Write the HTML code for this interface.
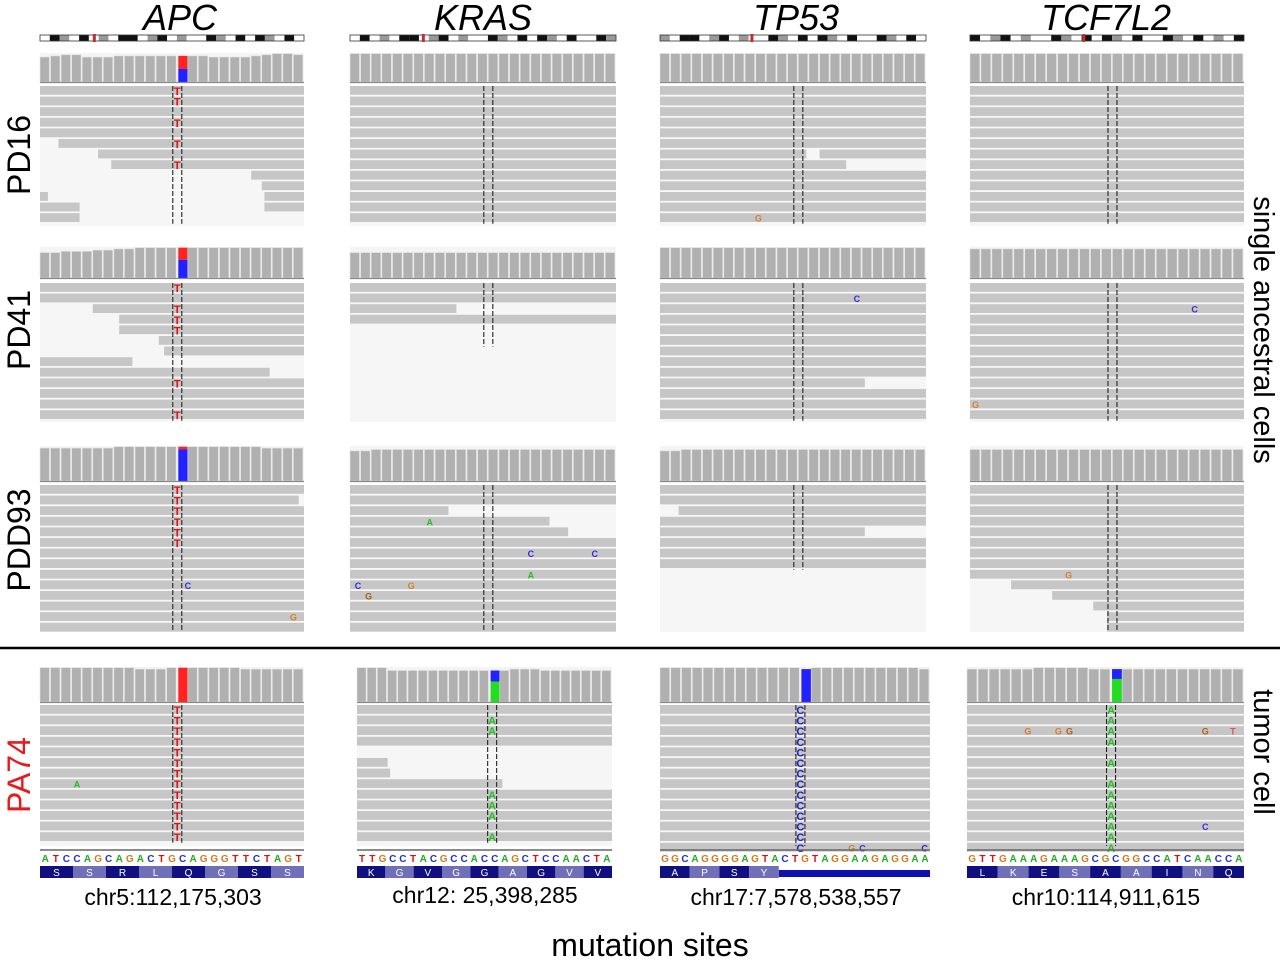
<!DOCTYPE html>
<html><head><meta charset="utf-8">
<style>
body{margin:0;background:#fff;width:1280px;height:961px;overflow:hidden;font-family:"Liberation Sans",sans-serif;}
svg{display:block}
</style></head>
<body>
<svg id="fig" width="1280" height="961" xmlns="http://www.w3.org/2000/svg" font-family="Liberation Sans, sans-serif">
 <g font-size="36" font-style="italic" text-anchor="middle">
  <text x="180" y="30">APC</text>
  <text x="483" y="30">KRAS</text>
  <text x="796" y="30">TP53</text>
  <text x="1106" y="30">TCF7L2</text>
 </g>
 <g font-size="32" text-anchor="middle">
  <text transform="translate(30,155) rotate(-90)">PD16</text>
  <text transform="translate(30,330) rotate(-90)">PD41</text>
  <text transform="translate(30,540) rotate(-90)">PDD93</text>
  <text fill="#e8191b" transform="translate(30,775) rotate(-90)">PA74</text>
  <text font-size="29" transform="translate(1254,330) rotate(90)">single ancestral cells</text>
  <text font-size="29" transform="translate(1254,752) rotate(90)">tumor cell</text>
 </g>
 <line x1="0" y1="648" x2="1280" y2="648" stroke="#000" stroke-width="2.5"/>
 <g font-size="23" text-anchor="middle">
  <text x="173" y="905">chr5:112,175,303</text>
  <text x="485" y="903">chr12: 25,398,285</text>
  <text x="796" y="905">chr17:7,578,538,557</text>
  <text x="1106" y="905">chr10:114,911,615</text>
 </g>
 <text x="650" y="956" font-size="32" text-anchor="middle">mutation sites</text>
 <g id="panels"></g>
</svg>
<script>
const cols=[{x:40,w:264},{x:350,w:266},{x:660,w:266},{x:970,w:274}];
const cols4=[{x:40,w:264},{x:357,w:255},{x:660,w:270},{x:967,w:277}];
const rowsY=[{cy:53,ch:29,ry:86,rh:140},{cy:247,ch:31,ry:283,rh:139},{cy:446,ch:35,ry:485,rh:147},{cy:667,ch:35,ry:705,rh:141}];
const geneNames=['apc','kras','tp53','tcf7l2'];
const sampleNames=['pd16','pd41','pdd93','pa74'];
const panels=[
 {c:0,r:0,m:.52,reads:"F,F,F,F,F,.07-1,.22-1,.27-1,.8-1,.84-1,0-.03|.85-1,0-.15|.85-1,0-.15",mut:'T',mc:'#e01010',mr:[0,1,3,5,7],cov:"6788666777777777666678998",cm:[['#f22',.5],['#22f',.5]],ex:[]},
 {c:1,r:0,m:.52,reads:"F,F,F,F,F,F,F,F,F,F,F,F,F",mut:'',mr:[],cov:"9999999999999999999999999",cm:null,ex:[]},
 {c:2,r:0,m:.52,reads:"F,F,F,F,F,F,0-.55|.6-1,0-.7,F,F,F,F,F",mut:'',mr:[],cov:"9999999999999999999999999",cm:null,ex:[[12,.37,'G','#d08030']]},
 {c:3,r:0,m:.52,reads:"F,F,F,F,F,F,F,F,F,F,F,F,F",mut:'',mr:[],cov:"9999999999999999999999999",cm:null,ex:[]},
 {c:0,r:1,m:.52,reads:"F,F,.2-1,.3-1,.3-1,.45-1,.47-1,0-.35,0-.87,F,F,F,F",mut:'T',mc:'#e01010',mr:[0,2,3,4,9,12],cov:"5566677889999999999999999",cm:[['#f22',.4],['#22f',.6]],ex:[]},
 {c:1,r:1,m:.52,reads:"F,F,0-.4,F",mut:'',mr:[],cov:"5555555555555555555555555",cm:null,ex:[]},
 {c:2,r:1,m:.52,reads:"F,F,F,F,F,F,F,F,F,0-.77,F,F,F",mut:'',mr:[],cov:"9999999999999999999999999",cm:null,ex:[[1,.74,'C','#3030d0']]},
 {c:3,r:1,m:.52,reads:"F,F,F,F,F,F,F,F,F,F,F,F,F",mut:'',mr:[],cov:"8888888888888888888888888",cm:null,ex:[[2,.82,'C','#3030d0'],[11,.02,'G','#d08030']]},
 {c:0,r:2,m:.52,reads:"F,0-.98,F,F,F,F,F,F,F,F,F,F,F,F",mut:'T',mc:'#e01010',mr:[0,1,2,3,4,5],cov:"8888888999999999999998888",cm:[['#f22',.08],['#22f',.92]],ex:[[9,.56,'C','#3030d0'],[12,.96,'G','#d08030']]},
 {c:1,r:2,m:.52,reads:"F,F,0-.37,0-.75,0-.82,F,F,F,F,F,F,F,F,F",mut:'',mr:[],cov:"6677777777777777777777777",cm:null,ex:[[3,.3,'A','#20c020'],[6,.68,'C','#3030d0'],[6,.92,'C','#3030d0'],[8,.68,'A','#20c020'],[9,.03,'C','#3030d0'],[9,.23,'G','#d08030'],[10,.07,'G','#a06010']]},
 {c:2,r:2,m:.52,reads:"F,F,.07-1,F,0-.77,F,F,F",mut:'',mr:[],cov:"6677777777777777777777777",cm:null,ex:[]},
 {c:3,r:2,m:.52,reads:"F,F,F,F,F,F,F,F,F,.15-1,.3-1,.45-1,.5-1,.5-1",mut:'',mr:[],cov:"7777777777777777777777777",cm:null,ex:[[8,.36,'G','#d08030']]},
 {c:0,r:3,m:.52,reads:"F,F,F,F,F,F,F,F,F,F,F,F,F",mut:'T',mc:'#e01010',mr:[0,1,2,3,4,5,6,7,8,9,10,11,12],cov:"9999999998889999999888888",cm:[['#f22',1]],ex:[[7,.14,'A','#20c020']]},
 {c:1,r:3,m:.53,reads:"F,F,F,F,-,0-.12,0-.13,0-.57,F,F,F,F,F",mut:'A',mc:'#20c020',mr:[1,2,8,9,10,12],cov:"9997777777777778887777777",cm:[['#22f',.35],['#2d2',.65]],ex:[]},
 {c:2,r:3,m:.52,reads:"F,F,F,F,F,F,F,F,F,F,F,F,F,F",mut:'C',mc:'#2020c0',mr:[0,1,2,3,4,5,6,7,8,9,10,11,12,13],cov:"9999999999999899999999998",cm:[['#22f',1]],ex:[[13,.71,'G','#d08030'],[13,.75,'C','#3030d0'],[13,.98,'C','#2020c0']]},
 {c:3,r:3,m:.52,reads:"F,F,F,F,F,F,F,F,F,F,F,F,F,F",mut:'A',mc:'#20c020',mr:[0,1,2,3,5,7,8,9,10,11,12,13],cov:"8888889999988888888888888",cm:[['#22f',.3],['#2d2',.7]],ex:[[2,.22,'G','#d08030'],[2,.33,'G','#d08030'],[2,.37,'G','#b06010'],[2,.86,'G','#b06010'],[2,.96,'T','#e05050'],[11,.86,'C','#3030d0']]}
];
const seqs=["ATCCAGCAGACTGCAGGGTTCTAGT","TTGCCTACGCCACCAGCTCCAACTA","GGCAGGGGAGTACTGTAGGAAGAGGAA","GTTGAAAGAAAGCGCGGCCATCAACCA"];
const aas=["SSRLQGSS","KGVGGAGVV","APSY","LKESAAINQ"];
const baseCol={A:'#22aa22',C:'#2030d0',G:'#d07a20',T:'#e01010'};
const NS='http://www.w3.org/2000/svg';
const root=document.getElementById('panels');
function el(t,a,p){const e=document.createElementNS(NS,t);for(const k in a)e.setAttribute(k,a[k]);(p||root).appendChild(e);return e;}
const bands="wkgwkwgwkkwgkwgwwkgwkwkgwkw";
cols.forEach((c,i)=>{
 const g=el('g',{});
 
 
 const y=35,h=6,bw=c.w/bands.length;
 for(let k=0;k<bands.length;k++){const col={w:'#fff',k:'#111',g:'#999'}[bands[(k+i*3)%bands.length]];el('rect',{x:c.x+k*bw,y:y,width:bw,height:h,fill:col},g);}
 el('rect',{x:c.x,y:y,width:c.w,height:h,fill:'none',stroke:'#333','stroke-width':.8},g);
 el('rect',{x:c.x+c.w*(0.2+i*0.07),y:y-1,width:3,height:h+2,fill:'#c03030'},g);
});
panels.forEach(p=>{
 const c=(p.r===3?cols4:cols)[p.c],R=rowsY[p.r];
 const g=el('g',{});
 
 
 const x=c.x,w=c.w,mx=x+w*p.m;
 el('rect',{x:x,y:R.cy,width:w,height:R.ch,fill:'#f4f4f4'},g);
 const n=p.cov.length,bw=w/n;
 const mi=Math.floor(p.m*n);
 for(let k=0;k<n;k++){
  const hh=R.ch*(0.62+0.04*(+p.cov[k]));
  const bx=x+k*bw,by=R.cy+R.ch-hh;
  if(k===mi&&p.cm){let yy=by;p.cm.forEach(([col,f])=>{el('rect',{x:bx+1,y:yy,width:bw-1,height:hh*f,fill:col},g);yy+=hh*f;});}
  else el('rect',{x:bx,y:by,width:bw-1.2,height:hh,fill:'#b0b0b0',stroke:'#e0e0e0','stroke-width':.6},g);
 }
 el('line',{x1:x,y1:R.cy+R.ch+.5,x2:x+w,y2:R.cy+R.ch+.5,stroke:'#888','stroke-width':1.2},g);
 el('rect',{x:x,y:R.ry,width:w,height:R.rh,fill:'#f6f6f6'},g);
 const rows=p.reads.split(',');
 const step=10.6;
 rows.forEach((rw,i)=>{
  if(rw==='-')return;
  rw.split('|').forEach(s=>{
   let a=0,b=1;if(s!=='F'){const q=s.split('-');a=+q[0];b=+q[1];}
   el('rect',{x:x+w*a,y:R.ry+i*step,width:w*(b-a),height:8.8,fill:'#c6c6c6'},g);
  });
 });
 const depth=(p.c===1&&p.r===1)?6:rows.length;
 const dy2=R.ry+Math.min(R.rh,depth*step);
 [-4.5,4.5].forEach(d=>el('line',{x1:mx+d,y1:R.ry,x2:mx+d,y2:dy2,stroke:'#222','stroke-width':1.1,'stroke-dasharray':'5,2'},g));
 p.mr.forEach(i=>{const t=el('text',{x:mx,y:R.ry+i*step+9,'font-size':11,'font-weight':'bold','text-anchor':'middle',fill:p.mc},g);t.textContent=p.mut;});
 p.ex.forEach(([i,f,ch,col])=>{const t=el('text',{x:x+w*f,y:R.ry+i*step+8.5,'font-size':9,'font-weight':'bold','text-anchor':'middle',fill:col},g);t.textContent=ch;});
 if(p.r===3){
  const sg=el('g',{});
  
  
  el('line',{x1:x,y1:850,x2:x+w,y2:850,stroke:'#666','stroke-width':1.5},sg);
  const s=seqs[p.c],sw=w/s.length;
  for(let k=0;k<s.length;k++){const t=el('text',{x:x+sw*(k+.5),y:862,'font-size':10,'font-weight':'bold','text-anchor':'middle',fill:baseCol[s[k]]},sg);t.textContent=s[k];}
  const aa=aas[p.c],aw=(p.c===2)?w*0.44/aa.length:w/aa.length;
  if(p.c===2) el('rect',{x:x+w*0.44,y:870,width:w*0.56,height:7,fill:'#1010b0'},sg);
  for(let k=0;k<aa.length;k++){
   el('rect',{x:x+aw*k,y:866,width:aw,height:12,fill:k%2?'#7070b8':'#101080'},sg);
   const t=el('text',{x:x+aw*(k+.5),y:876,'font-size':10,'text-anchor':'middle',fill:'#fff'},sg);t.textContent=aa[k];
  }
 }
});
</script>
</body></html>
